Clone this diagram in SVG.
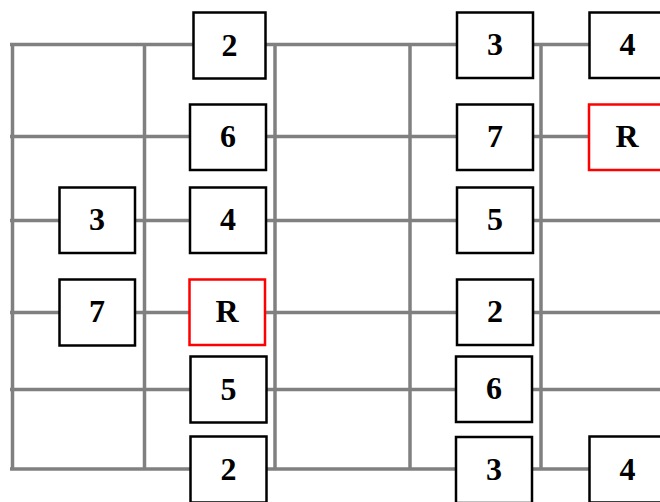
<svg xmlns="http://www.w3.org/2000/svg" width="660" height="502" viewBox="0 0 660 502">
<style>
.s{stroke:#808080;stroke-width:3.5;fill:none}
.b rect{fill:#fff;stroke:#000;stroke-width:2.5}
.b.r rect{stroke:#f00}
.b text{font-family:"Liberation Serif","Times New Roman",serif;font-weight:bold;font-size:32px;fill:#000;text-anchor:middle;dominant-baseline:central}
</style>
<rect width="660" height="502" fill="#fff"/>
<g id="connectors">
<line class="s" x1="10" y1="44.5" x2="660" y2="44.5"/>
<line class="s" x1="10" y1="136.5" x2="660" y2="136.5"/>
<line class="s" x1="10" y1="220.5" x2="660" y2="220.5"/>
<line class="s" x1="10" y1="312.5" x2="660" y2="312.5"/>
<line class="s" x1="10" y1="389.5" x2="660" y2="389.5"/>
<line class="s" x1="10" y1="469" x2="660" y2="469"/>
<line class="s" x1="12.5" y1="44.5" x2="12.5" y2="469"/>
<line class="s" x1="144.5" y1="44.5" x2="144.5" y2="469"/>
<line class="s" x1="275" y1="44.5" x2="275" y2="469"/>
<line class="s" x1="410" y1="44.5" x2="410" y2="469"/>
<line class="s" x1="541" y1="44.5" x2="541" y2="469"/>
</g>
<g id="n1" class="b"><rect x="193.5" y="12.5" width="72" height="66"/><text x="229.5" y="44.5">2</text></g>
<g id="n2" class="b"><rect x="190" y="104.5" width="76" height="65.5"/><text x="228" y="136">6</text></g>
<g id="n3" class="b"><rect x="457" y="12.5" width="76" height="65.5"/><text x="495" y="44">3</text></g>
<g id="n4" class="b"><rect x="589.5" y="12.5" width="76" height="65.5"/><text x="627.5" y="44">4</text></g>
<g id="n5" class="b"><rect x="457" y="104.5" width="76" height="65.5"/><text x="495" y="136">7</text></g>
<g id="n6" class="b r"><rect x="589" y="104.5" width="76" height="65.5"/><text x="627" y="136">R</text></g>
<g id="n7" class="b"><rect x="59.5" y="187.5" width="75.5" height="65.5"/><text x="97" y="219">3</text></g>
<g id="n8" class="b"><rect x="190" y="187.5" width="76" height="65.5"/><text x="228" y="219">4</text></g>
<g id="n9" class="b"><rect x="457" y="187.5" width="76" height="65.5"/><text x="495" y="219">5</text></g>
<g id="n10" class="b"><rect x="59.5" y="279.5" width="75.5" height="66"/><text x="97" y="311">7</text></g>
<g id="n11" class="b r"><rect x="189.5" y="279.5" width="75.5" height="65.5"/><text x="227" y="311">R</text></g>
<g id="n12" class="b"><rect x="457" y="279.5" width="76" height="65.5"/><text x="495" y="311">2</text></g>
<g id="n13" class="b"><rect x="190.5" y="356.5" width="76" height="66"/><text x="228.5" y="388.5">5</text></g>
<g id="n14" class="b"><rect x="456" y="356.5" width="76" height="65.5"/><text x="494" y="388">6</text></g>
<g id="n15" class="b"><rect x="190.5" y="436.5" width="76" height="66"/><text x="228.5" y="468.5">2</text></g>
<g id="n16" class="b"><rect x="456" y="437" width="76" height="66"/><text x="494" y="469">3</text></g>
<g id="n17" class="b"><rect x="589.5" y="436.5" width="76" height="66"/><text x="627.5" y="468.5">4</text></g>
</svg>
